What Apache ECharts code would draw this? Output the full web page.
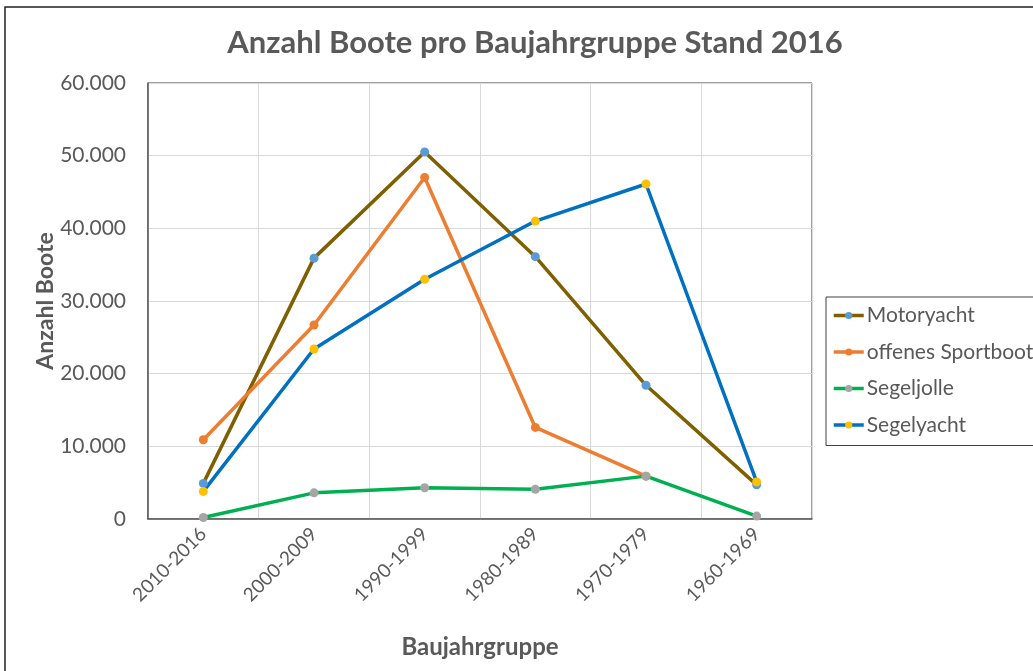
<!DOCTYPE html>
<html>
<head>
<meta charset="utf-8">
<script src="https://cdn.jsdelivr.net/npm/echarts@6/dist/echarts.min.js"></script>
<style>
  html, body { margin: 0; padding: 0; background: #fff; }
  #chart { width: 1033px; height: 671px; }
</style>
</head>
<body>
<div id="chart"></div>
<script>
// Baujahrgruppen (x-Achse)
const categories = ["2010-2016", "2000-2009", "1990-1999", "1980-1989", "1970-1979", "1960-1969"];

// Anzahl Boote je Bootstyp
const motoryacht = [4900, 35900, 50500, 36100, 18400, 4700];
const offenesSportboot = [10900, 26700, 47000, 12600, 5900, null];
const segeljolle = [200, 3600, 4300, 4100, 5900, 400];
const segelyacht = [3800, 23400, 33000, 41000, 46100, 5100];

const yTicks = [0, 10000, 20000, 30000, 40000, 50000, 60000];

const fontFam = "Lato, 'Open Sans', sans-serif";
const textColor = "#595959";

function fmt(v) {
  return String(v).replace(/\B(?=(\d{3})+(?!\d))/g, ".");
}

function lineSeries(name, data, lineColor, dotColor) {
  return {
    name: name,
    type: "line",
    data: data,
    symbol: "circle",
    symbolSize: 9,
    connectNulls: false,
    lineStyle: { color: lineColor, width: 3.5 },
    itemStyle: { color: dotColor },
    emphasis: { disabled: true }
  };
}

const chart = echarts.init(document.getElementById("chart"));
const option = {
  animation: false,
  title: {
    text: "Anzahl Boote pro Baujahrgruppe Stand 2016",
    left: 530,
    textAlign: "center",
    top: 22,
    textStyle: { fontFamily: fontFam, fontSize: 31, fontWeight: "bold", color: textColor }
  },
  graphic: [
    {
      type: "rect",
      shape: { x: 5, y: 7, width: 1040, height: 700 },
      style: { fill: "none", stroke: "#222", lineWidth: 1.5 },
      silent: true
    }
  ],
  legend: {
    orient: "vertical",
    left: 826,
    top: 297,
    padding: [8, 40, 10, 6],
    itemGap: 15.5,
    itemWidth: 30,
    itemHeight: 9,
    borderColor: "#404040",
    borderWidth: 1,
    lineStyle: { width: 3.5 },
    textStyle: { fontFamily: fontFam, fontSize: 21, color: textColor, padding: [0, 0, 0, -2] },
    data: ["Motoryacht", "offenes Sportboot", "Segeljolle", "Segelyacht"]
  },
  grid: {
    left: 148,
    right: 221,
    top: 83,
    bottom: 152,
    show: true,
    borderColor: "#404040",
    borderWidth: 1
  },
  xAxis: {
    type: "category",
    data: categories,
    boundaryGap: true,
    name: "Baujahrgruppe",
    nameLocation: "middle",
    nameGap: 116,
    nameMoveOverlap: false,
    nameTextStyle: { fontFamily: fontFam, fontSize: 24, fontWeight: "bold", color: textColor },
    axisLine: { lineStyle: { color: "#595959", width: 1.5 } },
    axisTick: { show: false },
    splitLine: { show: true, lineStyle: { color: "#d9d9d9", width: 1 } },
    axisLabel: {
      rotate: 45,
      margin: 12,
      fontFamily: fontFam,
      fontSize: 19,
      color: textColor
    }
  },
  yAxis: {
    type: "value",
    min: yTicks[0],
    max: yTicks[yTicks.length - 1],
    interval: 10000,
    name: "Anzahl Boote",
    nameLocation: "middle",
    nameGap: 91,
    nameMoveOverlap: false,
    nameTextStyle: { fontFamily: fontFam, fontSize: 23, fontWeight: "bold", color: textColor },
    axisLine: { show: true, lineStyle: { color: "#595959", width: 1.5 } },
    axisTick: { show: false },
    splitLine: { show: true, lineStyle: { color: "#d9d9d9", width: 1 } },
    axisLabel: {
      margin: 22,
      fontFamily: fontFam,
      fontSize: 21,
      color: textColor,
      formatter: function (v) { return fmt(v); }
    }
  },
  series: [
    lineSeries("Motoryacht", motoryacht, "#7F6000", "#5B9BD5"),
    lineSeries("offenes Sportboot", offenesSportboot, "#ED7D31", "#ED7D31"),
    lineSeries("Segeljolle", segeljolle, "#00B050", "#A5A5A5"),
    lineSeries("Segelyacht", segelyacht, "#0070C0", "#FFC000")
  ]
};
chart.setOption(option);
</script>
</body>
</html>
